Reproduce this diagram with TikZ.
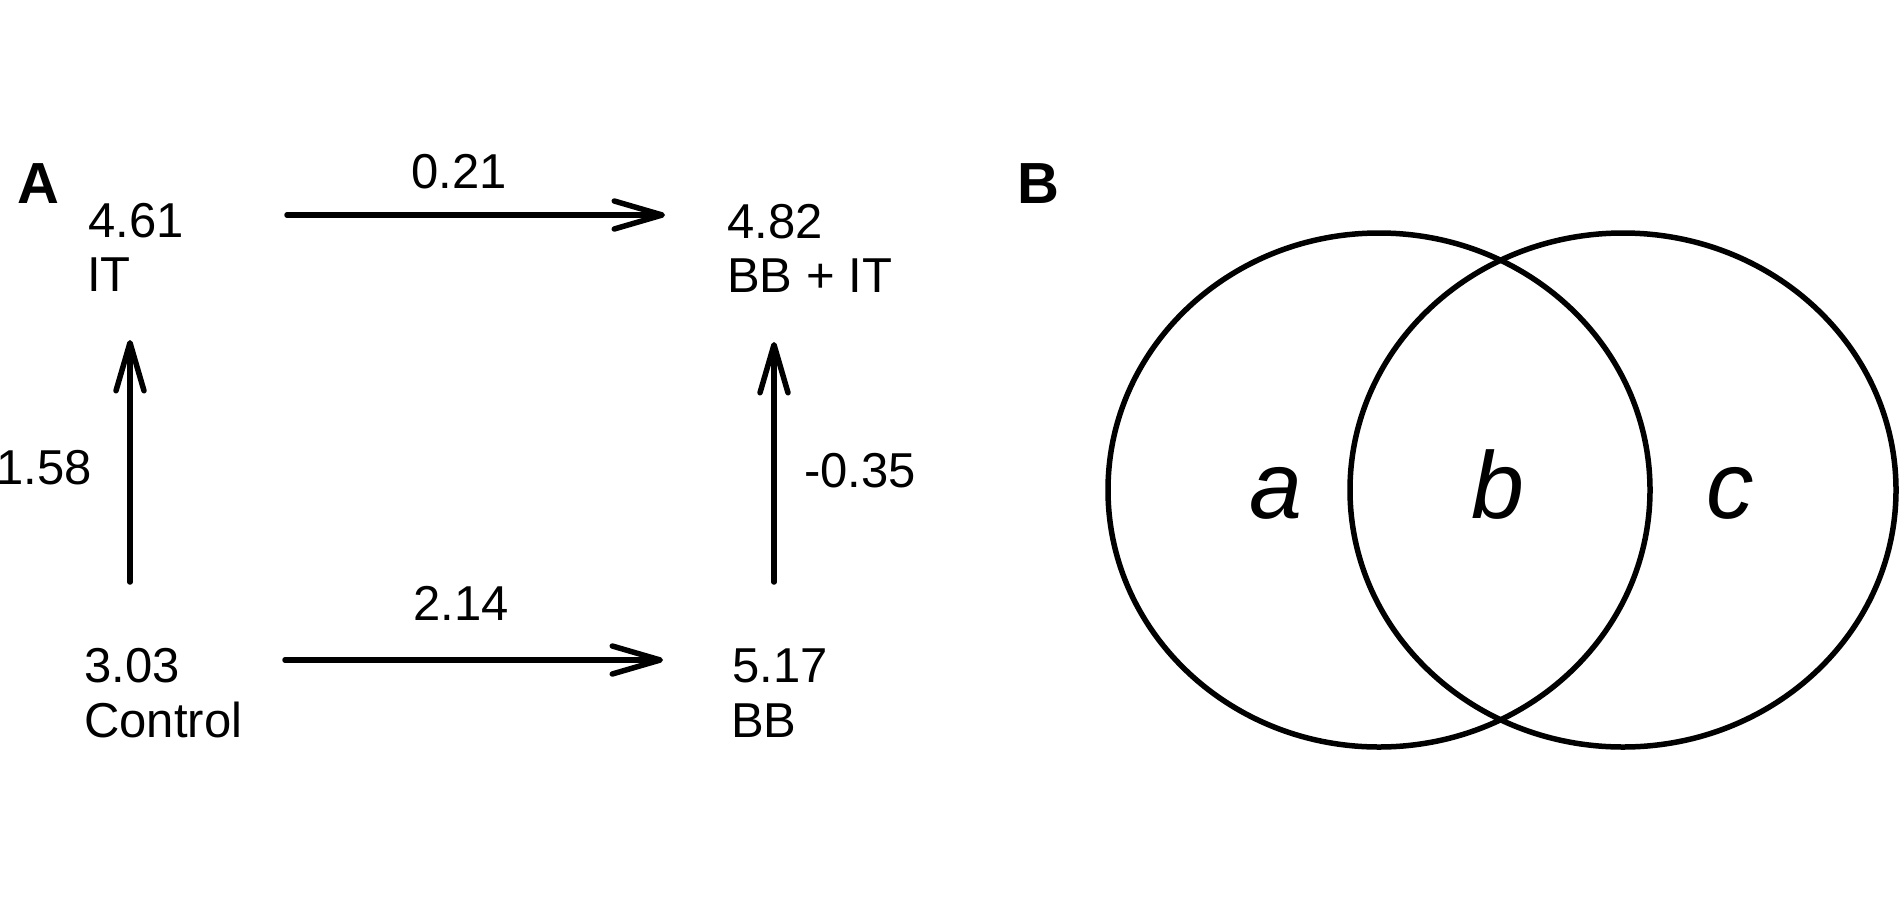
\documentclass[tikz,border=0pt]{standalone}
\usepackage{fontspec}
\setmainfont{Liberation Sans}
\usetikzlibrary{arrows.meta}
\begin{document}
\begin{tikzpicture}[x=1pt,y=-1pt,
  lbl/.style={inner sep=0pt, font=\fontsize{49}{54}\selectfont},
  panel/.style={inner sep=0pt, font=\fontsize{58}{66}\selectfont\bfseries},
  venn/.style={inner sep=0pt, font=\fontsize{95}{110}\selectfont\itshape},
  conn/.style={line width=5.5pt, line cap=round, -{Straight Barb[length=48pt,width=28pt,round]}},
  ring/.style={line width=5.5pt}]
\useasboundingbox[fill=white] (0,0) rectangle (1900,900);

% Panel labels
\node[panel, anchor=base west] (pA) at (17,203) {A};
\node[panel, anchor=base west] (pB) at (1017,203) {B};

% Panel A: values and groups
\node[lbl, anchor=base west] (itv) at (88,237) {4.61};
\node[lbl, anchor=base west] (itn) at (87,291) {IT};
\node[lbl, anchor=base west] (bbitv) at (727,238) {4.82};
\node[lbl, anchor=base west] (bbitn) at (727,292) {BB + IT};
\node[lbl, anchor=base west] (ctv) at (84,682) {3.03};
\node[lbl, anchor=base west] (ctn) at (84,737) {Control};
\node[lbl, anchor=base west] (bbv) at (732,682) {5.17};
\node[lbl, anchor=base west] (bbn) at (731,737) {BB};

% Edge labels
\node[lbl, anchor=base] (e1) at (459,188) {0.21};
\node[lbl, anchor=base] (e2) at (461,620) {2.14};
\node[lbl, anchor=base east] (e3) at (92,484) {1.58};
\node[lbl, anchor=base west] (e4) at (804,487) {-0.35};

% Arrow end points
\coordinate (ts) at (287,215);
\coordinate (te) at (665,215);
\coordinate (bs) at (285,660);
\coordinate (be) at (663,660);
\coordinate (ls) at (130,582);
\coordinate (le) at (130,340);
\coordinate (rs) at (774,582);
\coordinate (re) at (774,342);

\draw[conn] (ts) -- (te);
\draw[conn] (bs) -- (be);
\draw[conn] (ls) -- (le);
\draw[conn] (rs) -- (re);

% Panel B: Venn diagram
\draw[ring] (1379,490) ellipse [x radius=271, y radius=257];
\draw[ring] (1623,490) ellipse [x radius=273, y radius=257];
\node[venn, anchor=base] (va) at (1276,518) {a};
\node[venn, anchor=base] (vb) at (1498,518) {b};
\node[venn, anchor=base] (vc) at (1730,518) {c};
\end{tikzpicture}
\end{document}
